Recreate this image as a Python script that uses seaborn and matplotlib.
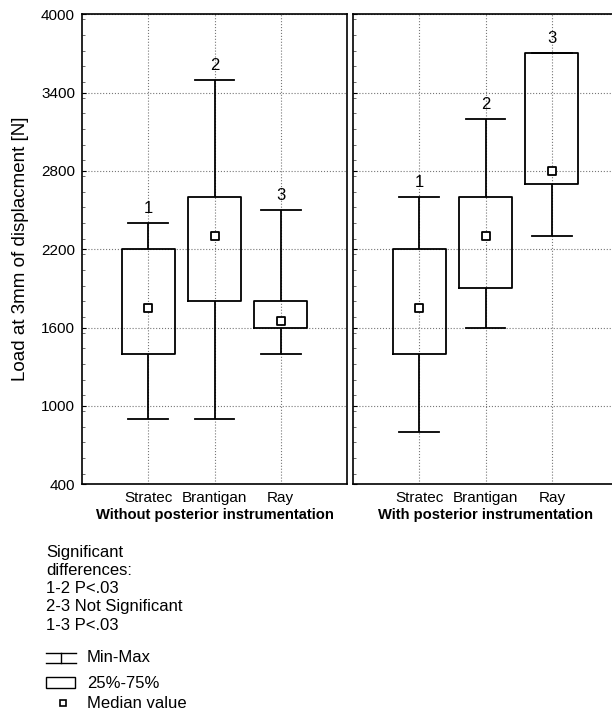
import numpy as np
import pandas as pd
import matplotlib
matplotlib.use("Agg")
import matplotlib.pyplot as plt
import seaborn as sns
from matplotlib.ticker import MultipleLocator
from matplotlib.patches import Rectangle

plt.rcParams['font.family'] = ['Liberation Sans', 'DejaVu Sans']

devices = ["Stratec", "Brantigan", "Ray"]
groups = ["Without posterior instrumentation", "With posterior instrumentation"]
group_nums = ["1", "2", "3"]

# min, 25%, median, 75%, max [N]
without_min = [900, 900, 1400]
without_q1 = [1400, 1800, 1600]
without_med = [1750, 2300, 1650]
without_q3 = [2200, 2600, 1800]
without_max = [2400, 3500, 2500]

with_min = [800, 1600, 2300]
with_q1 = [1400, 1900, 2700]
with_med = [1750, 2300, 2800]
with_q3 = [2200, 2600, 3700]
with_max = [2600, 3200, 3700]

notes = ["Significant", "differences:", "1-2 P<.03", "2-3 Not Significant", "1-3 P<.03"]

# five values per box -> percentiles 0/25/50/75/100 come out exactly as read
rows = []
stats = {
    groups[0]: (without_min, without_q1, without_med, without_q3, without_max),
    groups[1]: (with_min, with_q1, with_med, with_q3, with_max),
}
for g, (mn, q1, md, q3, mx) in stats.items():
    for i, d in enumerate(devices):
        for v in (mn[i], q1[i], md[i], q3[i], mx[i]):
            rows.append({"group": g, "device": d, "load": v})
df = pd.DataFrame(rows)

fig = plt.figure(figsize=(6.12, 7.13), dpi=100)

# overlay in pixel coords for the notes / key
lax = fig.add_axes([0, 0, 1, 1])
lax.set_xlim(0, 612)
lax.set_ylim(713, 0)
lax.axis("off")

ax1 = fig.add_axes([0.134, 0.321, 0.433, 0.659])
ax2 = fig.add_axes([0.577, 0.321, 0.433, 0.659])

for ax, g in zip([ax1, ax2], groups):
    sub = df[df["group"] == g]
    sns.boxplot(data=sub, x="device", y="load", order=devices, whis=(0, 100),
                width=0.8, fill=False, color="black", linecolor="black",
                linewidth=1.3, medianprops=dict(visible=False),
                capwidths=0.6, ax=ax)
    med = stats[g][2]
    sns.stripplot(x=devices, y=med, order=devices, jitter=False, marker="s",
                  size=5.5, color="white", edgecolor="black", linewidth=1.3,
                  ax=ax, zorder=5)
    for i, top in enumerate(stats[g][4]):
        ax.annotate(group_nums[i], (i, top), xytext=(0, 5), textcoords="offset points",
                    ha="center", va="bottom", fontsize=12)
    ax.set_xlim(-1, 3)
    ax.set_ylim(400, 4000)
    ax.set_yticks(range(400, 4001, 600))
    ax.yaxis.set_minor_locator(MultipleLocator(120))
    ax.grid(True, which="major", linestyle=":", color="#777777", linewidth=0.8)
    ax.set_axisbelow(True)
    ax.tick_params(axis="y", which="major", direction="in", length=3, labelsize=11, pad=5)
    ax.tick_params(axis="y", which="minor", direction="in", length=2, color="#555555")
    ax.tick_params(axis="x", length=0, labelsize=11, pad=5)
    for s in ax.spines.values():
        s.set_linewidth(1.2)
        s.set_color("black")
    ax.set_xlabel(g, fontweight="bold", fontsize=10.6, labelpad=2)
    ax.set_ylabel("")

ax1.set_ylabel("Load at 3mm of displacment [N]", fontsize=13.5, labelpad=9)
ax2.tick_params(axis="y", labelleft=False)

# notes
for k, line in enumerate(notes):
    lax.text(46, 552 + k * 18.3, line, fontsize=12, va="center", ha="left")

# key
lax.plot([46, 76], [653, 653], color="black", lw=1)
lax.plot([61, 61], [653, 663], color="black", lw=1)
lax.plot([46, 76], [663, 663], color="black", lw=1)
lax.add_patch(Rectangle((46, 677), 29, 11, fill=False, edgecolor="black", lw=1))
lax.plot([63], [703], marker="s", markersize=5, markerfacecolor="white",
         markeredgecolor="black", markeredgewidth=1.2)
lax.text(87, 658, "Min-Max", fontsize=12, va="center")
lax.text(87, 683, "25%-75%", fontsize=12, va="center")
lax.text(87, 703, "Median value", fontsize=12, va="center")

fig.savefig("out.png", dpi=100)
